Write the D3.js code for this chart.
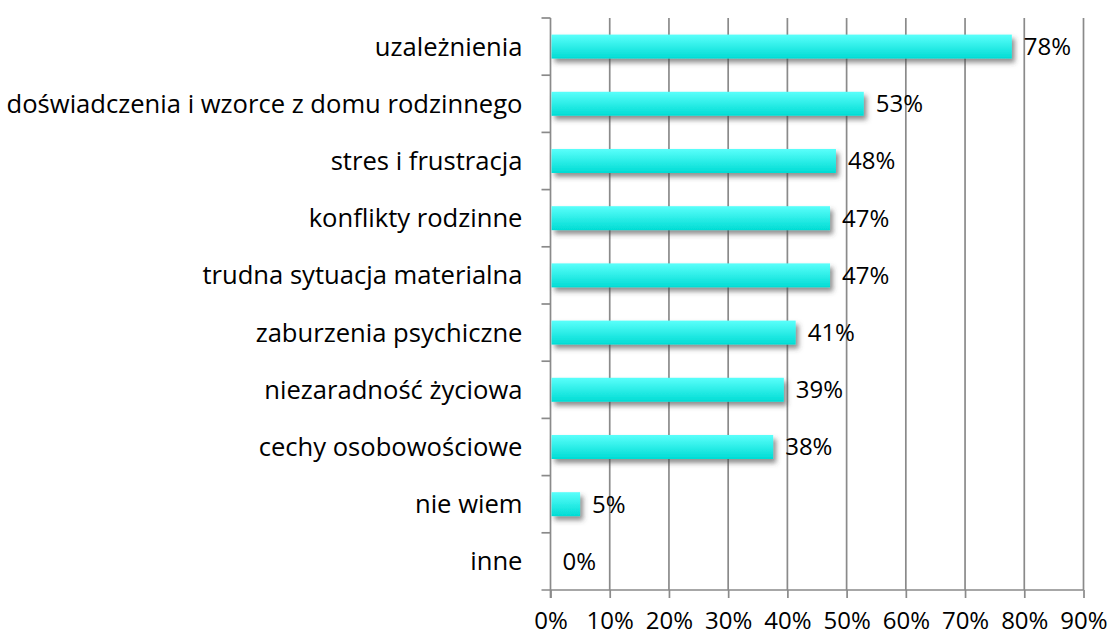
<!DOCTYPE html>
<html>
<head>
<meta charset="utf-8">
<script src="https://cdn.jsdelivr.net/npm/d3@7.9.0/dist/d3.min.js"></script>
<style>
  html, body { margin: 0; padding: 0; background: #fff; }
  svg { display: block; font-family: "Open Sans", sans-serif; }
</style>
</head>
<body>
<svg id="chart" width="1111" height="639"></svg>
<script>
// Data
const categories = [
  'uzależnienia',
  'doświadczenia i wzorce z domu rodzinnego',
  'stres i frustracja',
  'konflikty rodzinne',
  'trudna sytuacja materialna',
  'zaburzenia psychiczne',
  'niezaradność życiowa',
  'cechy osobowościowe',
  'nie wiem',
  'inne'
];
const values = [0.779, 0.529, 0.482, 0.472, 0.472, 0.414, 0.394, 0.376, 0.05, 0];
const tickValues = [0, 0.1, 0.2, 0.3, 0.4, 0.5, 0.6, 0.7, 0.8, 0.9];

const data = categories.map((c, i) => ({ label: c, value: values[i] }));

const svg = d3.select('#chart');
const margin = { top: 18, left: 550.5, right: 27.5, bottom: 49 };
const W = 1111, H = 639;
const fontSize = '24px';

const x = d3.scaleLinear().domain([0, 0.9]).range([margin.left, W - margin.right]);
const y = d3.scaleBand().domain(categories)
  .range([margin.top, H - margin.bottom])
  .paddingInner(0.58).paddingOuter(0.29);

// gradient + shadow defs
const defs = svg.append('defs');
const grad = defs.append('linearGradient').attr('id', 'barGrad')
  .attr('x1', 0).attr('y1', 0).attr('x2', 0).attr('y2', 1);
grad.append('stop').attr('offset', '0%').attr('stop-color', '#5afffb');
grad.append('stop').attr('offset', '100%').attr('stop-color', '#00dcd4');

const shadow = defs.append('filter').attr('id', 'shadow')
  .attr('x', '-20%').attr('y', '-50%').attr('width', '160%').attr('height', '250%');
shadow.append('feDropShadow')
  .attr('dx', 3).attr('dy', 4).attr('stdDeviation', 2.8)
  .attr('flood-color', '#444').attr('flood-opacity', 0.6);

const gridColor = '#8a8a8a';

// vertical gridlines
svg.append('g').selectAll('line')
  .data(tickValues.slice(1))
  .join('line')
  .attr('x1', d => x(d)).attr('x2', d => x(d))
  .attr('y1', margin.top).attr('y2', H - margin.bottom)
  .attr('stroke', gridColor).attr('stroke-width', 1.7);

// x axis
const xAxis = svg.append('g')
  .attr('transform', `translate(0,${H - margin.bottom})`)
  .call(d3.axisBottom(x).tickValues(tickValues).tickFormat(d3.format('.0%')).tickSize(8).tickSizeOuter(0));
xAxis.select('.domain').attr('stroke', gridColor).attr('stroke-width', 1.7)
  .attr('d', `M${x(0) - 9},0H${x(0.9)}`);
xAxis.selectAll('.tick line').attr('stroke', gridColor).attr('stroke-width', 1.7);
xAxis.selectAll('.tick text')
  .attr('y', 22).attr('fill', '#000')
  .style('font-size', fontSize).style('font-family', '"Open Sans", sans-serif');

// y axis line + category boundary ticks
const step = y.step();
const bounds = d3.range(categories.length + 1).map(i => y(categories[0]) - step * y.paddingInner() / 2 + i * step);
svg.append('line')
  .attr('x1', x(0)).attr('x2', x(0))
  .attr('y1', margin.top).attr('y2', H - margin.bottom + 8)
  .attr('stroke', gridColor).attr('stroke-width', 1.7);
svg.append('g').selectAll('line')
  .data(bounds.slice(0, -1))
  .join('line')
  .attr('x1', x(0) - 9).attr('x2', x(0))
  .attr('y1', d => d).attr('y2', d => d)
  .attr('stroke', gridColor).attr('stroke-width', 1.7);

// category labels
svg.append('g').selectAll('text')
  .data(data)
  .join('text')
  .attr('x', x(0) - 28)
  .attr('y', d => y(d.label) + y.bandwidth() / 2)
  .attr('dy', '0.35em')
  .attr('text-anchor', 'end')
  .style('font-size', '25.6px')
  .text(d => d.label);

// bars
svg.append('g').selectAll('rect')
  .data(data.filter(d => d.value > 0))
  .join('rect')
  .attr('x', x(0) + 1)
  .attr('y', d => y(d.label))
  .attr('width', d => x(d.value) - x(0) - 1)
  .attr('height', y.bandwidth())
  .attr('fill', 'url(#barGrad)')
  .attr('filter', 'url(#shadow)');

// value labels
svg.append('g').selectAll('text')
  .data(data)
  .join('text')
  .attr('x', d => x(d.value) + 12)
  .attr('y', d => y(d.label) + y.bandwidth() / 2)
  .attr('dy', '0.35em')
  .style('font-size', fontSize)
  .text(d => d3.format('.0%')(d.value));
</script>
</body>
</html>
